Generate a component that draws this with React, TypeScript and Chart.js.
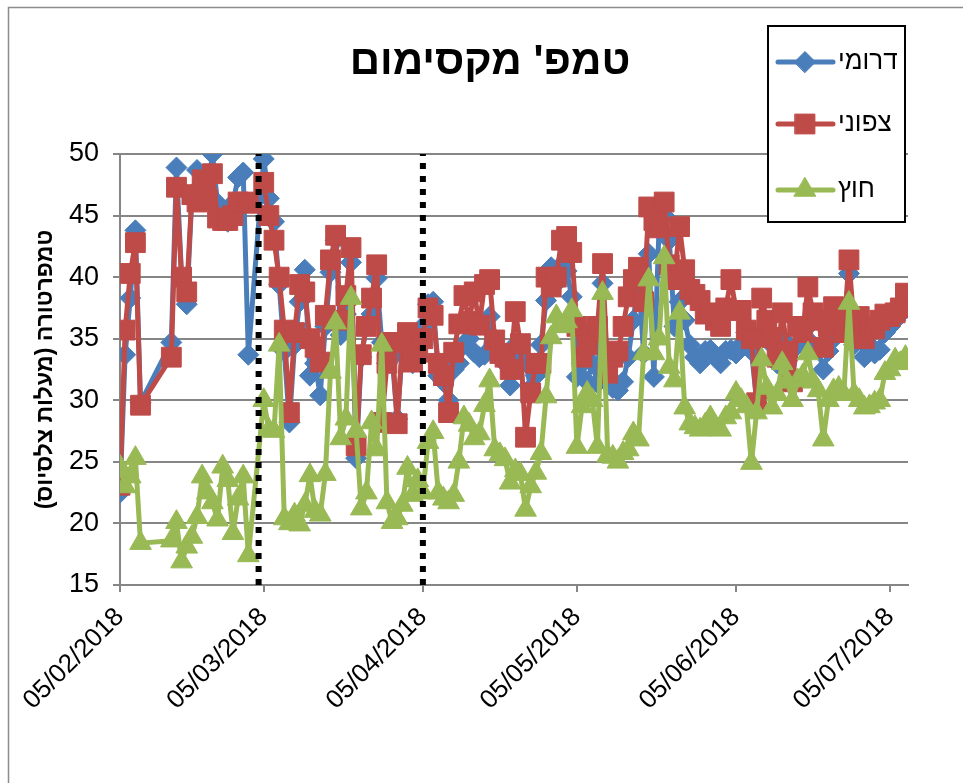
import { useEffect, useRef } from "react";
import { Chart, registerables } from "chart.js";
import { drawPoint } from "chart.js/helpers";

Chart.register(...registerables);

const chartTitle = "טמפ' מקסימום";
const yAxisTitle = "טמפרטורה (מעלות צלסיוס)\u200F";
const seriesNames = ["דרומי", "צפוני", "חוץ"];

const dates = [
  "05/02/2018", "06/02/2018", "07/02/2018", "08/02/2018", "09/02/2018",
  "15/02/2018", "16/02/2018", "17/02/2018", "18/02/2018", "19/02/2018", "20/02/2018", "21/02/2018", "22/02/2018",
  "23/02/2018", "24/02/2018", "25/02/2018", "26/02/2018", "27/02/2018", "28/02/2018", "01/03/2018", "02/03/2018",
  "05/03/2018", "06/03/2018", "07/03/2018", "08/03/2018", "09/03/2018", "10/03/2018", "11/03/2018", "12/03/2018",
  "13/03/2018", "14/03/2018", "15/03/2018", "16/03/2018", "17/03/2018", "18/03/2018", "19/03/2018", "20/03/2018",
  "21/03/2018", "22/03/2018", "23/03/2018", "24/03/2018", "25/03/2018", "26/03/2018", "27/03/2018", "28/03/2018",
  "29/03/2018", "30/03/2018", "31/03/2018",
  "01/04/2018", "02/04/2018", "03/04/2018", "04/04/2018", "05/04/2018", "06/04/2018", "07/04/2018", "08/04/2018",
  "09/04/2018", "10/04/2018", "11/04/2018", "12/04/2018", "13/04/2018", "14/04/2018", "15/04/2018", "16/04/2018",
  "17/04/2018", "18/04/2018", "19/04/2018", "20/04/2018", "21/04/2018", "22/04/2018", "23/04/2018", "24/04/2018",
  "25/04/2018", "26/04/2018", "27/04/2018", "28/04/2018", "29/04/2018", "30/04/2018",
  "01/05/2018", "02/05/2018", "03/05/2018", "04/05/2018", "05/05/2018", "06/05/2018", "07/05/2018", "08/05/2018",
  "09/05/2018", "10/05/2018", "11/05/2018", "12/05/2018", "13/05/2018", "14/05/2018", "15/05/2018", "16/05/2018",
  "17/05/2018", "18/05/2018", "19/05/2018", "20/05/2018", "21/05/2018", "22/05/2018", "23/05/2018", "24/05/2018",
  "25/05/2018", "26/05/2018", "27/05/2018", "28/05/2018", "29/05/2018", "30/05/2018", "31/05/2018",
  "01/06/2018", "02/06/2018", "03/06/2018", "04/06/2018", "05/06/2018", "06/06/2018", "07/06/2018", "08/06/2018",
  "09/06/2018", "10/06/2018", "11/06/2018", "12/06/2018", "13/06/2018", "14/06/2018", "15/06/2018", "16/06/2018",
  "17/06/2018", "18/06/2018", "19/06/2018", "20/06/2018", "21/06/2018", "22/06/2018", "23/06/2018", "24/06/2018",
  "25/06/2018", "26/06/2018", "27/06/2018", "28/06/2018", "29/06/2018", "30/06/2018",
  "01/07/2018", "02/07/2018", "03/07/2018", "04/07/2018", "05/07/2018", "06/07/2018", "07/07/2018", "08/07/2018",
];

// דרומי
const south = [
  22.5, 33.7, 38.3, 43.8, 29.8,
  34.7, 48.9, 40.0, 37.8, 46.5, 48.7, 47.5, 46.5, 50.0, 46.0, 45.0, 44.5, 46.0, 48.1, 48.5, 33.7,
  49.6, 46.4, 44.5, 39.4, 34.0, 28.2, 34.5, 38.0, 40.6, 32.0, 33.0, 30.4, 36.0, 40.4, 43.0, 35.3,
  37.0, 41.2, 25.3, 33.5, 36.0, 37.0, 39.9, 34.7, 33.0, 33.5, 28.5,
  34.0, 35.0, 33.0, 33.5, 36.0, 37.8, 38.0, 32.0, 31.5, 30.0, 32.5, 33.0, 34.5, 35.0, 33.9, 33.5,
  33.7, 36.8, 35.0, 34.0, 33.0, 31.2, 34.5, 33.5, 33.1, 31.0, 32.0, 34.5, 38.1, 40.8,
  39.5, 41.0, 40.5, 38.4, 31.9, 33.0, 31.5, 33.0, 31.4, 39.5, 32.0, 31.0, 30.8, 31.5, 33.5, 36.5,
  40.0, 33.8, 41.9, 31.9, 44.0, 45.0, 43.0, 36.0, 38.0, 36.5, 34.5, 33.5, 33.0, 34.0, 34.1,
  33.5, 33.0, 34.0, 34.1, 33.8, 34.5, 35.5, 34.0, 30.0, 35.5, 35.0, 34.5, 33.0, 35.0, 33.5, 32.0,
  34.5, 35.0, 36.0, 34.5, 34.1, 32.5, 34.0, 35.0, 35.5, 36.0, 40.3, 34.5, 35.0, 33.5,
  34.5, 33.8, 34.1, 35.5, 36.0, 36.5, 37.0, 37.6,
];

// צפוני
const north = [
  23.1, 35.7, 40.3, 42.8, 29.6,
  33.5, 47.3, 40.0, 38.8, 46.7, 46.1, 47.9, 46.3, 48.4, 44.8, 44.6, 44.6, 45.0, 46.1, 46.1, 46.0,
  47.7, 45.0, 43.0, 40.0, 35.7, 29.0, 35.5, 39.4, 38.8, 35.0, 34.3, 33.1, 36.9, 41.4, 43.4, 36.5,
  38.5, 42.4, 26.3, 33.7, 36.0, 38.3, 41.0, 28.2, 33.0, 34.7, 28.1,
  34.7, 35.5, 33.1, 33.9, 35.0, 37.5, 36.9, 33.0, 32.0, 29.0, 33.9, 36.2, 38.5, 36.4, 38.8, 36.1,
  39.4, 39.8, 34.9, 33.8, 33.5, 32.5, 37.2, 34.6, 27.0, 30.6, 33.0, 33.0, 40.0, 39.2,
  40.0, 43.0, 43.3, 42.0, 36.0, 33.5, 34.5, 35.5, 36.0, 41.1, 32.2, 33.5, 34.0, 36.0, 38.4, 39.8,
  40.8, 38.0, 45.7, 44.6, 44.0, 46.1, 41.0, 39.8, 44.1, 40.6, 39.0, 38.6, 38.1, 37.0, 37.1,
  36.5, 36.0, 37.5, 39.8, 37.3, 37.3, 35.7, 35.0, 29.8, 38.3, 36.5, 35.1, 33.5, 37.1, 34.0, 31.5,
  36.0, 35.5, 39.2, 37.1, 36.5, 34.3, 36.0, 37.6, 36.5, 35.5, 41.4, 36.0, 36.8, 35.0,
  36.0, 35.8, 36.5, 37.0, 36.8, 37.1, 37.5, 38.7,
];

// חוץ
const outside = [
  24.6, 23.0, 23.8, 25.3, 18.4,
  18.6, 20.1, 16.9, 18.1, 18.9, 20.5, 23.8, 22.5, 21.7, 20.3, 24.6, 23.5, 19.2, 22.0, 23.8, 17.4,
  30.0, 27.6, 27.5, 34.5, 20.4, 20.0, 20.7, 19.9, 21.5, 23.9, 21.0, 20.7, 24.0, 32.3, 36.3, 26.9,
  28.5, 38.3, 27.5, 21.2, 22.5, 28.2, 26.0, 34.5, 21.7, 20.1, 20.4,
  21.5, 24.5, 22.3, 23.5, 22.5, 26.6, 27.4, 22.5, 22.0, 21.7, 22.3, 25.0, 28.6, 28.0, 26.9, 27.3,
  29.6, 31.6, 26.0, 25.6, 25.2, 23.3, 24.3, 24.0, 21.1, 23.0, 24.1, 25.7, 30.3, 35.1,
  36.8, 36.0, 36.4, 37.3, 26.2, 29.5, 30.6, 30.0, 26.2, 38.7, 25.5, 25.4, 25.0, 25.7, 26.0, 27.3,
  26.8, 33.8, 39.8, 33.8, 35.0, 41.6, 32.7, 31.6, 37.1, 29.4, 28.1, 27.8, 27.6, 28.0, 28.6,
  27.8, 27.6, 28.6, 29.0, 30.6, 30.0, 29.5, 24.9, 29.0, 33.3, 31.0, 29.4, 30.5, 33.0, 31.5, 30.0,
  31.6, 32.0, 33.8, 31.5, 30.8, 26.8, 30.0, 30.8, 31.0, 30.5, 37.9, 30.5, 30.0, 29.4,
  29.5, 29.8, 30.0, 32.2, 32.5, 33.3, 33.0, 33.5,
];

const xTickLabels = ["05/02/2018", "05/03/2018", "05/04/2018", "05/05/2018", "05/06/2018", "05/07/2018"];
const xAxisEnd = "08/07/2018";
const periodMarkers = ["04/03/2018", "05/04/2018"];
const yMin = 15;
const yMax = 50;
const yStep = 5;

const FONT = "'Liberation Sans', 'DejaVu Sans', Arial, sans-serif";

function toUTC(s: string) {
  const [d, m, y] = s.split("/").map(Number);
  return Date.UTC(y, m - 1, d);
}
const origin = toUTC(xTickLabels[0]);
function dayOf(s: string) {
  return (toUTC(s) - origin) / 86400000;
}

const decorPlugin = {
  id: "decor",
  beforeDraw(chart: any) {
    const ctx = chart.ctx;
    ctx.save();
    ctx.fillStyle = "#ffffff";
    ctx.fillRect(0, 0, chart.width, chart.height);
    ctx.strokeStyle = "#8c8c8c";
    ctx.lineWidth = 1.5;
    ctx.strokeRect(8.5, 7.5, chart.width + 40, chart.height + 40);
    ctx.restore();
  },
  afterDraw(chart: any) {
    const ctx = chart.ctx;
    ctx.save();
    // title
    ctx.fillStyle = "#000";
    ctx.font = `bold 42px ${FONT}`;
    ctx.textAlign = "center";
    ctx.textBaseline = "middle";
    ctx.fillText(chartTitle, 490, 62);

    // legend
    const bx = 768, by = 26, bw = 137, bh = 196;
    ctx.fillStyle = "#ffffff";
    ctx.fillRect(bx, by, bw, bh);
    ctx.strokeStyle = "#000";
    ctx.lineWidth = 2;
    ctx.strokeRect(bx, by, bw, bh);
    const rows = [62, 124, 190];
    for (let i = 0; i < 3; i++) {
      const ds = chart.data.datasets[i];
      const y = rows[i];
      ctx.strokeStyle = ds.borderColor;
      ctx.lineWidth = ds.borderWidth;
      ctx.lineCap = "round";
      ctx.beginPath();
      ctx.moveTo(778, y);
      ctx.lineTo(833, y);
      ctx.stroke();
      ctx.fillStyle = ds.pointBackgroundColor;
      ctx.strokeStyle = ds.pointBorderColor;
      ctx.lineWidth = ds.pointBorderWidth;
      drawPoint(ctx, { pointStyle: ds.pointStyle, radius: ds.pointRadius, rotation: 0, borderWidth: ds.pointBorderWidth }, 805, y);
      ctx.fillStyle = "#000";
      ctx.font = `26px ${FONT}`;
      ctx.textAlign = "left";
      ctx.textBaseline = "middle";
      ctx.fillText(seriesNames[i], 838, y);
    }
    ctx.restore();
  },
};

function series(label: string, values: number[], color: string, style: string, radius: number, order: number) {
  return {
    label,
    data: dates.map((d, i) => ({ x: dayOf(d), y: values[i] })),
    borderColor: color,
    backgroundColor: color,
    borderWidth: 5,
    borderJoinStyle: "round",
    borderCapStyle: "round",
    pointStyle: style,
    pointRadius: radius,
    pointBorderWidth: 1,
    pointBackgroundColor: color,
    pointBorderColor: color,
    tension: 0,
    fill: false,
    order,
  };
}

export default function App() {
  const ref = useRef<HTMLCanvasElement | null>(null);
  useEffect(() => {
    if (!ref.current) return;
    const xTickDays = xTickLabels.map(dayOf);
    const markerSets = periodMarkers.map((d) => ({
      label: "",
      data: [
        { x: dayOf(d), y: yMin },
        { x: dayOf(d), y: yMax },
      ],
      borderColor: "#000",
      backgroundColor: "#000",
      borderWidth: 6,
      borderDash: [6, 7],
      borderCapStyle: "butt",
      pointRadius: 0,
      fill: false,
      order: 0,
    }));
    const chart = new Chart(ref.current, {
      type: "line",
      data: {
        datasets: [
          series(seriesNames[0], south, "#4A7EBB", "rectRot", 10.5, 3),
          series(seriesNames[1], north, "#BE4B48", "rect", 14, 2),
          series(seriesNames[2], outside, "#98B954", "triangle", 12.5, 1),
          ...markerSets,
        ] as any,
      },
      options: {
        responsive: false,
        animation: false,
        devicePixelRatio: 1,
        events: [],
        layout: { padding: { left: 28, top: 154, right: 55, bottom: 0 } },
        plugins: {
          legend: { display: false },
          title: { display: false },
          tooltip: { enabled: false },
        },
        scales: {
          x: {
            type: "linear",
            min: 0,
            max: dayOf(xAxisEnd) + 0.5,
            afterBuildTicks: (s: any) => {
              s.ticks = xTickDays.map((v) => ({ value: v }));
            },
            afterFit: (s: any) => {
              s.height = 198;
            },
            ticks: {
              autoSkip: false,
              maxRotation: 45,
              minRotation: 45,
              color: "#000",
              padding: 10,
              font: { family: FONT, size: 26 },
              callback: (_v: any, i: number) => xTickLabels[i],
            },
            grid: { drawOnChartArea: false, drawTicks: true, tickLength: 7, color: "#868686", lineWidth: 2 },
            border: { color: "#868686", width: 2 },
          },
          y: {
            min: yMin,
            max: yMax,
            afterFit: (s: any) => {
              s.width = 92;
            },
            ticks: { stepSize: yStep, color: "#000", padding: 14, font: { family: FONT, size: 27 } },
            grid: { color: "#868686", lineWidth: 2, tickLength: 7 },
            border: { color: "#868686", width: 2 },
            title: {
              display: true,
              text: yAxisTitle,
              color: "#000",
              font: { family: FONT, size: 23, weight: "bold" },
              padding: { top: 4, bottom: 4 },
            },
          },
        },
      } as any,
      plugins: [decorPlugin],
    });
    return () => chart.destroy();
  }, []);
  return (
    <div style={{ position: "fixed", left: 0, top: 0, width: 963, height: 783, overflow: "hidden", background: "#fff" }}>
      <canvas ref={ref} width={963} height={783} style={{ display: "block" }} />
    </div>
  );
}
